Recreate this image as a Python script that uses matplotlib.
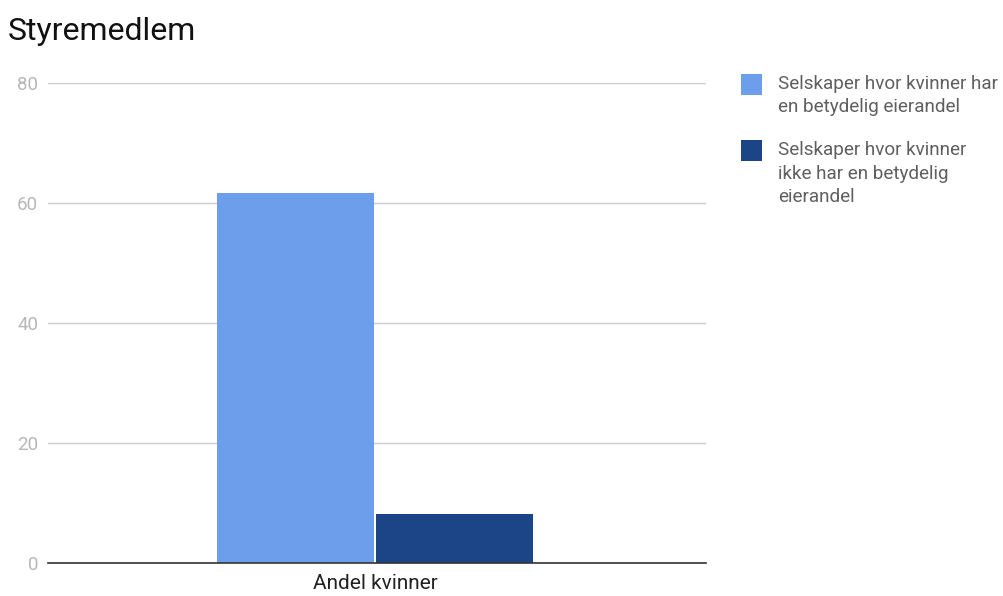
import matplotlib.pyplot as plt
from matplotlib.patches import Rectangle

plt.rcParams['font.family'] = ['Roboto', 'DejaVu Sans']

# Andel kvinner blant styremedlemmer
kategori = "Andel kvinner"
serier = ["Selskaper hvor kvinner har\nen betydelig eierandel",
          "Selskaper hvor kvinner\nikke har en betydelig\neierandel"]
verdier = [61.6, 8.2]
farger = ["#6d9eeb", "#1c4587"]

W, H = 1004, 596
fig = plt.figure(figsize=(W / 100, H / 100), dpi=100)
ax = fig.add_axes([48 / W, 1 - 563 / H, 658 / W, 480 / H])

bredde = 0.2386
gap = 0.003
posisjoner = [-bredde / 2 - gap / 2, bredde / 2 + gap / 2]
for x, v, f in zip(posisjoner, verdier, farger):
    ax.bar(x, v, width=bredde, color=f, zorder=3)

ax.set_xlim(-0.497, 0.503)
ax.set_ylim(0, 80)
ax.set_yticks([0, 20, 40, 60, 80])
ax.set_xticks([0])
ax.set_xticklabels([kategori], fontsize=15, color="#222222")
ax.tick_params(axis="x", length=0, pad=8)
ax.tick_params(axis="y", length=0, pad=7, labelsize=13.5, labelcolor="#b7b7b7")
ax.grid(axis="y", color="#cccccc", linewidth=1, zorder=0)
for s in ["top", "right", "left"]:
    ax.spines[s].set_visible(False)
ax.spines["bottom"].set_color("#333333")
ax.spines["bottom"].set_linewidth(1.2)
ax.spines["bottom"].set_zorder(4)

fig.text(8 / W, 1 - 31 / H, "Styremedlem", fontsize=23, color="#111111",
         va="center", ha="left")

# forklaring: firkant ved første linje, tekst linje for linje
linje_h = 23.5
y = 84
for navn, f in zip(serier, farger):
    fig.patches.append(Rectangle((741 / W, 1 - (y + 10.5) / H), 21 / W, 21 / H,
                                 transform=fig.transFigure, facecolor=f,
                                 edgecolor="none"))
    linjer = navn.split("\n")
    for i, tekst in enumerate(linjer):
        fig.text(778 / W, 1 - (y + i * linje_h) / H, tekst, fontsize=13.6,
                 color="#5f5f5f", va="center", ha="left")
    y += len(linjer) * linje_h + 19

fig.savefig("out.png", dpi=100)
